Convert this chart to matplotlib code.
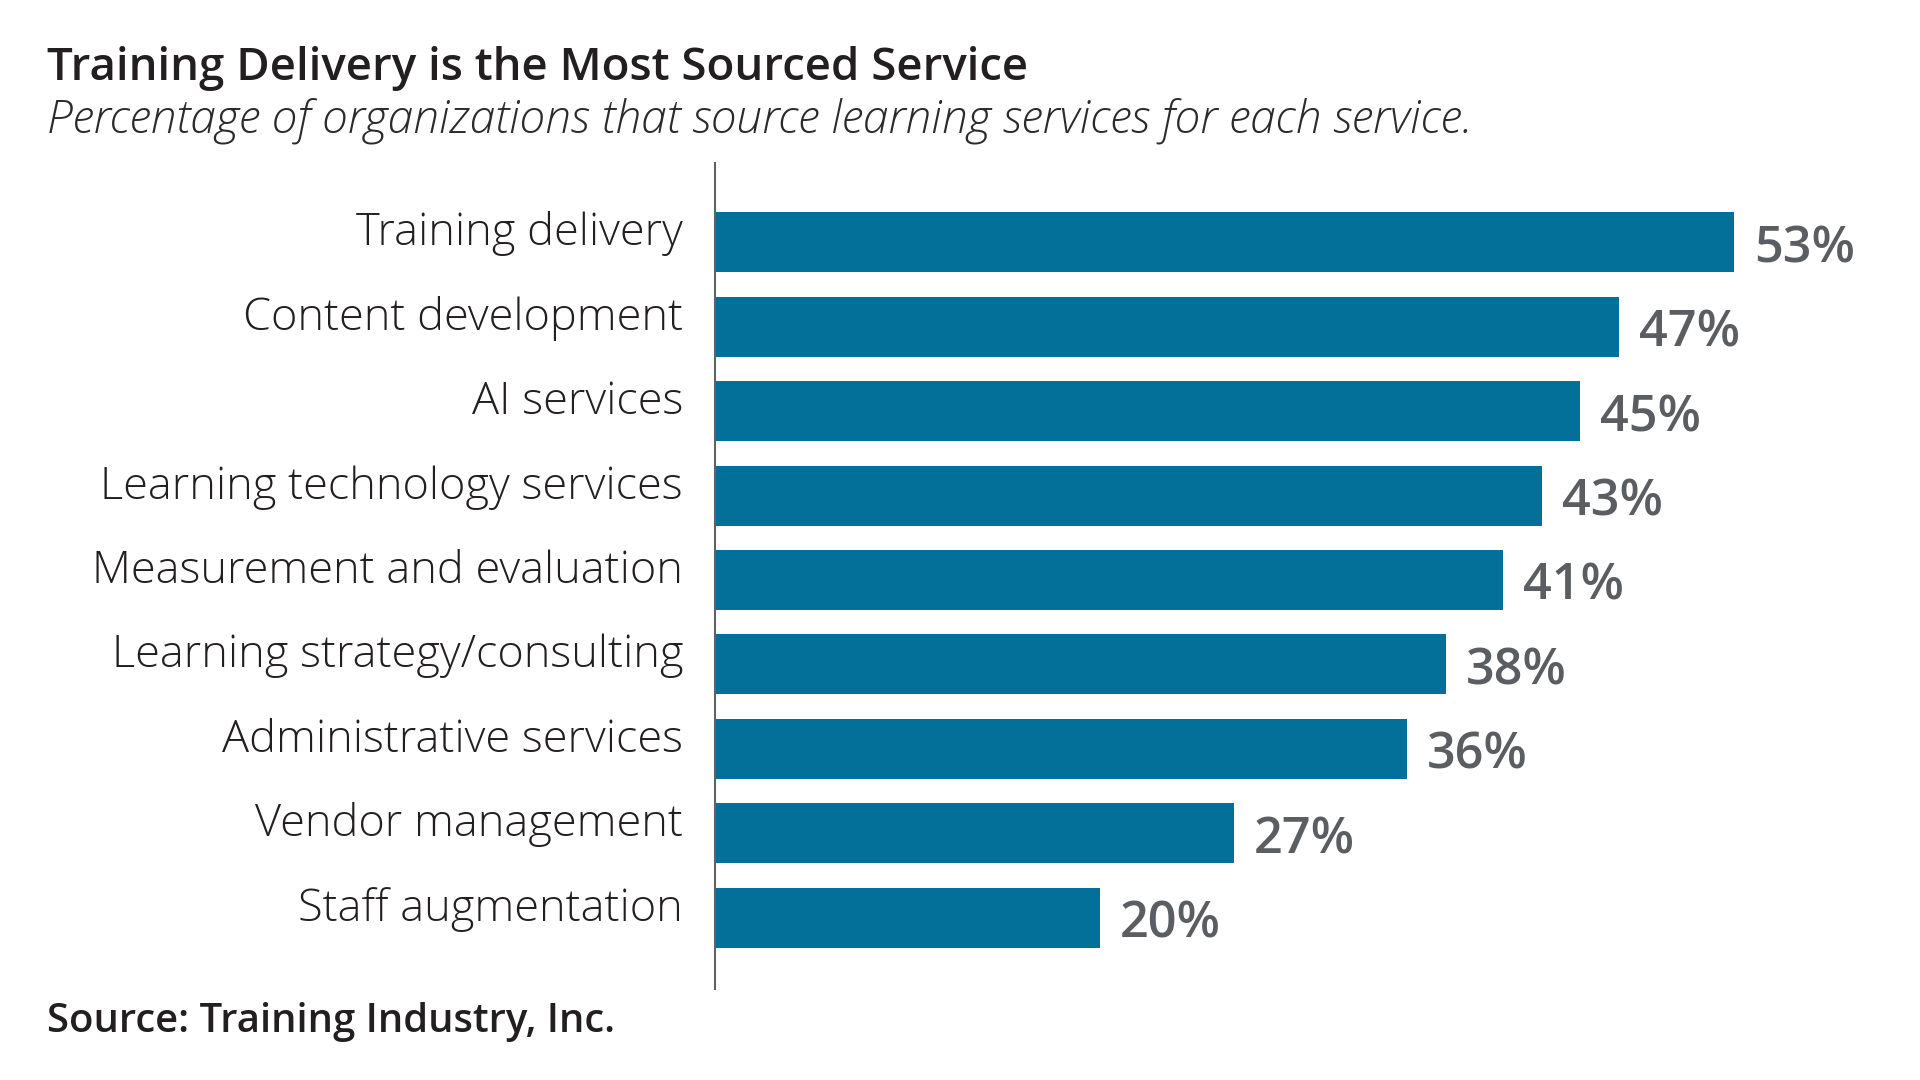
import matplotlib
matplotlib.use('Agg')
import matplotlib.pyplot as plt
from matplotlib.transforms import offset_copy

# Dados do gráfico
services = ['Training delivery', 'Content development', 'AI services',
            'Learning technology services', 'Measurement and evaluation',
            'Learning strategy/consulting', 'Administrative services',
            'Vendor management', 'Staff augmentation']
pct = [53, 47, 45, 43, 41, 38, 36, 27, 20]

title = 'Training Delivery is the Most Sourced Service'
subtitle = 'Percentage of organizations that source learning services for each service.'
source = 'Source: Training Industry, Inc.'

BAR = '#03709a'
DARK = '#231f20'
GRAY = '#5a5e62'
FONT = 'Open Sans'

W, H = 1920, 1080
fig = plt.figure(figsize=(19.2, 10.8), dpi=100)
fig.patch.set_facecolor('white')
rend = fig.canvas.get_renderer()


def fit_size(txt, width, **kw):
    # acha o tamanho de fonte que dá a largura desejada (px)
    t = fig.text(0, 0, txt, fontsize=20, **kw)
    w = t.get_window_extent(renderer=rend).width
    t.remove()
    return 20 * width / w


# eixo com a barra vertical
x0, px_per = 715, 19.23
top, bot, pitch = 162.7, 989.3, 84.4
ax = fig.add_axes([x0 / W, 1 - bot / H, (W - x0) / W, (bot - top) / H])
ax.set_xlim(0, (W - x0) / px_per)
ax.set_ylim(8 + (bot - 917.5) / pitch, -(242.5 - top) / pitch)

ypos = list(range(len(services)))
ax.barh(ypos, pct, height=60 / pitch, color=BAR, edgecolor='none')

for s in ['top', 'right', 'bottom']:
    ax.spines[s].set_visible(False)
ax.spines['left'].set_color('#5f6266')
ax.spines['left'].set_linewidth(1.5)
ax.set_xticks([])
ax.set_yticks([])

lab_fs = fit_size('Learning technology services', 585, family=FONT, weight='light')
val_fs = fit_size('53%', 101, family=FONT, weight='semibold')

lab_tr = offset_copy(ax.transData, fig=fig, x=-32, y=-3, units='dots')
val_tr = offset_copy(ax.transData, fig=fig, x=20, y=-20, units='dots')
for y, name, v in zip(ypos, services, pct):
    ax.text(0, y, name, transform=lab_tr, ha='right', va='baseline',
            fontsize=lab_fs, family=FONT, weight='light', color=DARK)
    ax.text(v, y, f'{v}%', transform=val_tr, ha='left', va='baseline',
            fontsize=val_fs, family=FONT, weight='semibold', color=GRAY)

# títulos e fonte
t_fs = fit_size(title, 982, family=FONT, weight='semibold')
fig.text(47 / W, 1 - 80 / H, title, fontsize=t_fs, family=FONT,
         weight='semibold', color=DARK, va='baseline')
s_fs = fit_size(subtitle, 1427, family=FONT, weight='light', style='italic')
fig.text(47 / W, 1 - 132 / H, subtitle, fontsize=s_fs, family=FONT,
         weight='light', style='italic', color='#2b2b2b', va='baseline')
src_fs = fit_size(source, 567, family=FONT, weight='semibold')
fig.text(47 / W, 1 - 1031.7 / H, source, fontsize=src_fs, family=FONT,
         weight='semibold', color=DARK, va='baseline')

plt.savefig('out.png', dpi=100, facecolor='white')
